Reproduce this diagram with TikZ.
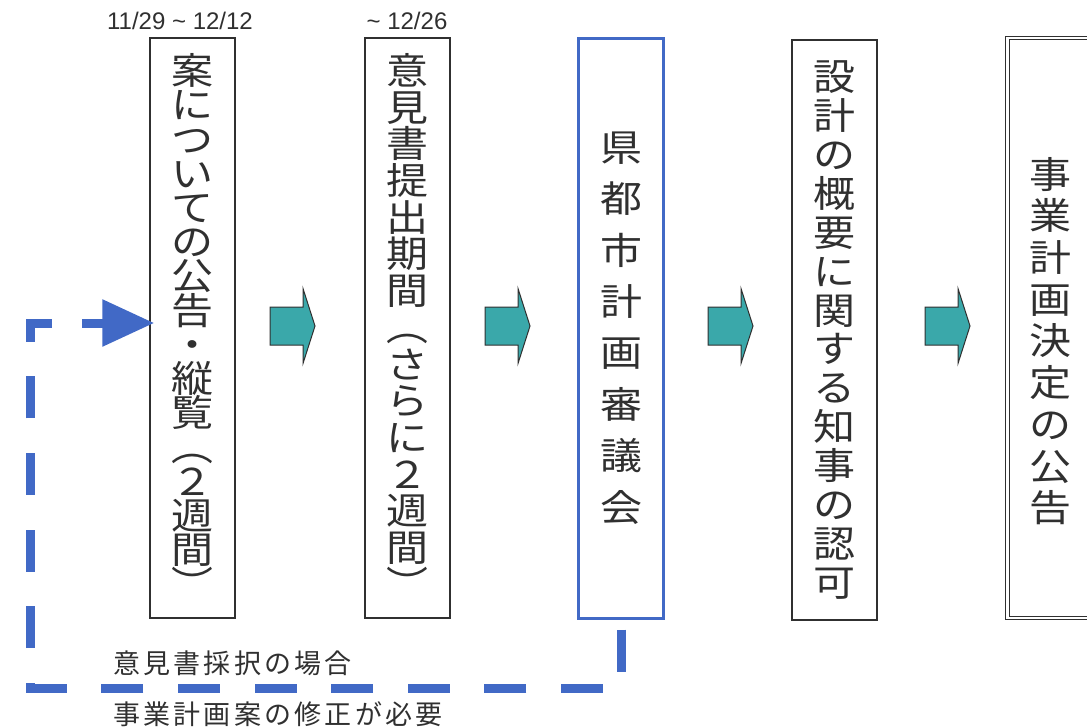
\documentclass[tikz,border=0pt]{standalone}
\usepackage{fontspec}
\setmainfont{Liberation Sans}
\newfontfamily\jpfont{Noto Sans CJK JP}
\usetikzlibrary{arrows.meta,calc,positioning}
\definecolor{inkgray}{HTML}{303030}
\definecolor{planblue}{HTML}{4169C6}
\definecolor{stepteal}{HTML}{3AA8AA}
% vertical column of characters, squeezed a little
\newcommand{\vtxt}[2][40]{\scalebox{1}[0.88]{\parbox{50pt}{\fontsize{42}{#1}\selectfont\lineskiplimit=-100pt\centering #2\par}}}
\newcommand{\vopen}{\rotatebox[origin=c]{-90}{（}}
\newcommand{\vclose}{\rotatebox[origin=c]{-90}{）}}
\tikzstyle{stagebox}=[draw=inkgray,line width=1.4pt,minimum width=85pt,minimum height=580pt,inner sep=0pt,text=inkgray,font=\jpfont]
\tikzstyle{councilbox}=[stagebox,draw=planblue,line width=3pt]
\tikzstyle{decisionbox}=[stagebox,line width=1.2pt,double=white,double distance=2.4pt]
\tikzstyle{datelabel}=[font=\fontsize{24}{27}\selectfont,text=inkgray,inner sep=0pt]
\tikzstyle{notelabel}=[font=\jpfont\fontsize{27}{30}\selectfont\addfontfeature{LetterSpace=12},text=inkgray,inner sep=0pt,anchor=west]
\tikzstyle{stepfill}=[draw=inkgray,line width=1pt,fill=stepteal]
\tikzstyle{feedback}=[draw=planblue,line width=9pt,dash pattern=on 42pt off 34.6pt]
\tikzstyle{fbarrow}=[draw=planblue,line width=9pt,-{Triangle[length=52pt,width=45pt]},shorten >=-5pt]
\tikzset{nextarrow/.pic={\path[stepfill] (0,-19) -- (33,-19) -- (33,-37.5) -- (45,0) -- (33,37.5) -- (33,19) -- (0,19) -- cycle;}}

\begin{document}
\begin{tikzpicture}[x=1pt,y=-1pt]
    \useasboundingbox (0,0) rectangle (1087,728);
    \clip (0,0) rectangle (1087,728);

    \foreach \pos/\name/\gap/\label in {{(192.5,328)/notice/38.9/{案\\に\\つ\\い\\て\\の\\公\\告\\・\\縦\\覧\\\vopen\\２\\週\\間\\\vclose}},
        {(407.5,328)/opinion/41.7/{意\\見\\書\\提\\出\\期\\間\\\vopen\\さ\\ら\\に\\２\\週\\間\\\vclose}},
        {(834.5,330)/approval/44.2/{設\\計\\の\\概\\要\\に\\関\\す\\る\\知\\事\\の\\認\\可}}}
        \node[stagebox] (\name) at \pos {\vtxt[\gap]{\label}};

    \node[councilbox] (council) at (621,328) {\vtxt[58.4]{県\\都\\市\\計\\画\\審\\議\\会}};
    \node[decisionbox] (decision) at (1050,328) {\raisebox{-13pt}[\height][\depth]{\vtxt[47.4]{事\\業\\計\\画\\決\\定\\の\\公\\告}}};

    \node[datelabel] (span1) at (180,21) {11/29 \textasciitilde{} 12/12};
    \node[datelabel] (span2) at (407,21) {\textasciitilde{} 12/26};

    \foreach \x in {270,485,708,925}
        \pic at (\x,326) {nextarrow};

    % return path when the plan has to be revised
    \coordinate (fbtop) at (52,323);
    \coordinate (fbtip) at (82,323);
    \draw[feedback] ([yshift=-10pt]council.south) |- (30,688) -- (30,323) -- (fbtop);
    \draw[fbarrow] (fbtip) -- (fbtip -| notice.west);

    \node[notelabel] (cond) at (113,663) {意見書採択の場合};
    \node[notelabel] (revise) at (113,714) {事業計画案の修正が必要};
\end{tikzpicture}
\end{document}
